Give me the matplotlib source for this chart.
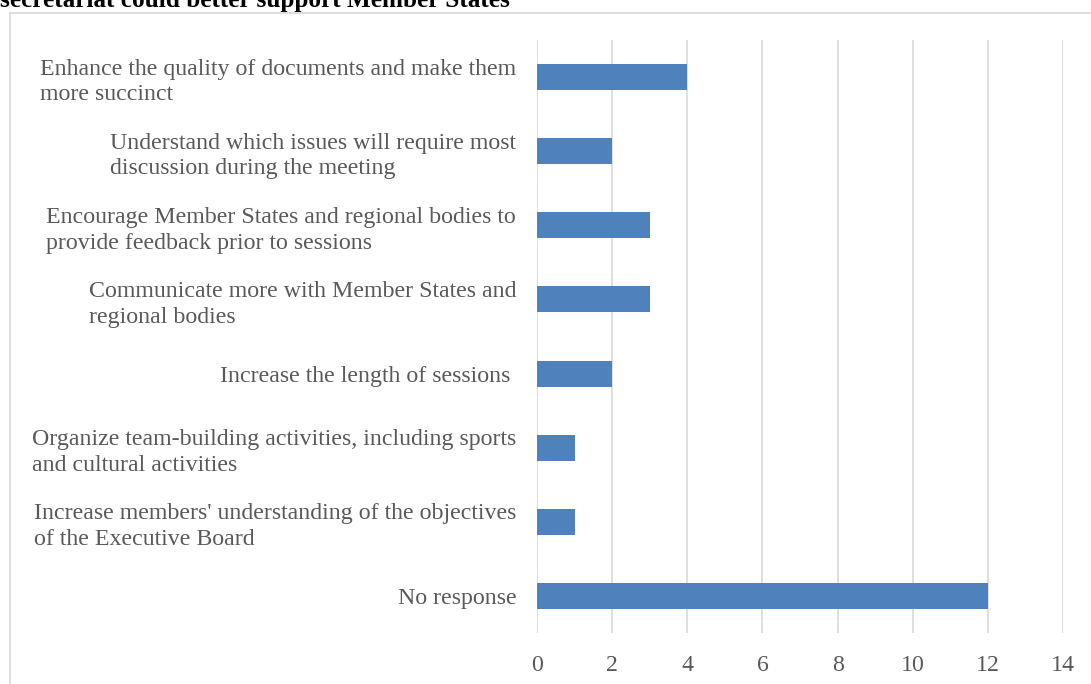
import matplotlib.pyplot as plt
from matplotlib.patches import Rectangle

plt.rcParams['font.family'] = ['Liberation Serif', 'DejaVu Serif']

# categories, top to bottom as they appear in the chart
categories = [
	'Enhance the quality of documents and make them\nmore succinct',
	'Understand which issues will require most\ndiscussion during the meeting',
	'Encourage Member States and regional bodies to\nprovide feedback prior to sessions',
	'Communicate more with Member States and\nregional bodies',
	'Increase the length of sessions ',
	'Organize team-building activities, including sports\nand cultural activities',
	"Increase members' understanding of the objectives\nof the Executive Board",
	'No response',
]
counts = [4, 2, 3, 3, 2, 1, 1, 12]
xticks = [0, 2, 4, 6, 8, 10, 12, 14]
title = 'secretariat could better support Member States'

fig = plt.figure(figsize=(10.91, 6.84), dpi=100)

# light border round the chart area
fig.patches.append(Rectangle((10 / 1091, -0.05), 1.0, 0.05 + 1 - 12.5 / 684,
	transform=fig.transFigure, fill=False, edgecolor='#D9D9D9', linewidth=1.2))

fig.text(0.0, 1 - 7.5 / 684, title, fontsize=18.2, fontweight='bold', ha='left', va='baseline')

ax = fig.add_axes([537 / 1091, 1 - 633 / 684, 526 / 1091, 593 / 684])
ypos = list(range(len(categories)))
ax.barh(ypos, counts, height=0.35, color='#4F81BD', zorder=3)
ax.set_ylim(len(categories) - 0.5, -0.5)
ax.set_xlim(0, 14)
ax.set_xticks(xticks)
ax.set_xticklabels([str(t) for t in xticks])
ax.set_yticks(ypos)
ax.set_yticklabels(categories, multialignment='left', linespacing=1.3)
ax.tick_params(axis='both', length=0, labelsize=17.2, colors='#595959')
ax.tick_params(axis='y', pad=15)
ax.tick_params(axis='x', pad=16)
ax.grid(axis='x', color='#D9D9D9', linewidth=1.2, zorder=0)
for s in ax.spines.values():
	s.set_visible(False)

fig.savefig('out.png', dpi=100)
